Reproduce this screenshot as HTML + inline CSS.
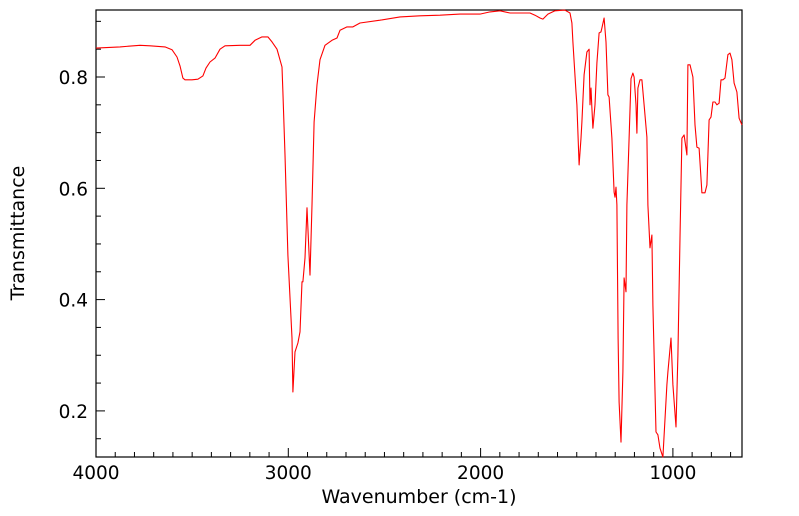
<!DOCTYPE html>
<html><head><meta charset="utf-8"><style>
body{margin:0;background:#fff;}
svg{display:block;font-family:"DejaVu Sans","Liberation Sans",sans-serif;}
</style></head><body>
<svg id="chart" width="799" height="516">
<g id="axes"></g>
<path id="spec" fill="none" stroke="#ff0000" stroke-width="1.1" stroke-linejoin="round"/>
<text x="419" y="503" font-size="19" text-anchor="middle">Wavenumber (cm-1)</text>
<text transform="translate(24,233) rotate(-90)" font-size="19" text-anchor="middle">Transmittance</text>
</svg>
<script>
const wavenumbers=[4000,3875,3771,3719,3641,3605,3579,3563,3548,3537,3501,3470,3444,3428,3407,3381,3355,3329,3251,3199,3173,3137,3106,3085,3059,3033,3028,3017,3002,2981,2976,2965,2950,2939,2929,2924,2913,2903,2887,2877,2866,2851,2835,2809,2773,2747,2731,2695,2664,2627,2523,2419,2315,2211,2107,2003,1951,1899,1847,1795,1743,1717,1691,1676,1650,1613,1572,1561,1535,1525,1520,1504,1499,1488,1478,1473,1462,1447,1436,1431,1426,1421,1416,1405,1395,1384,1374,1369,1358,1348,1338,1332,1322,1317,1306,1301,1296,1291,1285,1280,1270,1260,1254,1244,1239,1228,1218,1208,1202,1192,1187,1182,1171,1161,1150,1135,1130,1119,1109,1104,1088,1078,1067,1052,1031,1026,1010,1000,984,974,963,953,942,927,922,911,896,885,875,864,854,849,833,823,812,802,792,781,771,760,750,740,729,714,703,693,682,667,656,641];
const transmittance=[0.852,0.854,0.857,0.856,0.854,0.849,0.836,0.820,0.798,0.795,0.795,0.796,0.802,0.816,0.827,0.834,0.850,0.856,0.857,0.857,0.866,0.872,0.872,0.863,0.850,0.818,0.773,0.660,0.480,0.331,0.234,0.306,0.322,0.342,0.432,0.432,0.475,0.565,0.444,0.570,0.719,0.786,0.831,0.857,0.866,0.870,0.884,0.890,0.890,0.897,0.902,0.908,0.910,0.911,0.913,0.913,0.917,0.919,0.915,0.915,0.915,0.911,0.906,0.904,0.913,0.919,0.920,0.920,0.915,0.897,0.863,0.773,0.750,0.642,0.690,0.719,0.804,0.845,0.850,0.750,0.780,0.744,0.708,0.750,0.825,0.879,0.881,0.888,0.906,0.863,0.768,0.764,0.714,0.690,0.593,0.584,0.602,0.570,0.331,0.216,0.144,0.270,0.439,0.414,0.570,0.690,0.797,0.807,0.800,0.750,0.699,0.780,0.795,0.795,0.750,0.692,0.570,0.493,0.516,0.390,0.162,0.157,0.133,0.117,0.247,0.270,0.331,0.247,0.171,0.300,0.511,0.690,0.696,0.660,0.822,0.822,0.800,0.714,0.674,0.672,0.618,0.592,0.592,0.606,0.723,0.728,0.755,0.755,0.750,0.753,0.795,0.795,0.798,0.840,0.843,0.831,0.789,0.773,0.726,0.714];
const xTicks=[4000,3000,2000,1000];
const yTicks=[0.2,0.4,0.6,0.8];
const L=96,R=742,T=10,B=457;
const x=w=>L+(4000-w)*0.1923;
const y=v=>77+(0.8-v)*556.5;
const ns="http://www.w3.org/2000/svg";
const ax=document.getElementById('axes');
function mk(tag,attrs){const e=document.createElementNS(ns,tag);for(const k in attrs)e.setAttribute(k,attrs[k]);ax.appendChild(e);return e;}
const frame=mk('rect',{x:L,y:T,width:R-L,height:B-T,fill:'none',stroke:'#000','stroke-width':1.2});


for(let w=4000;w>=650;w-=100){
  const major=w%1000===0;
  const t=mk('line',{x1:x(w),x2:x(w),y1:B,y2:B-(major?9:5),stroke:'#000','stroke-width':1});
  
  
}
xTicks.forEach(w=>{
  const t=mk('text',{x:x(w),y:B+22,'font-size':18.5,'text-anchor':'middle'});
  t.textContent=w;
  
  
});
for(let v=0.15;v<=0.92;v+=0.05){
  const major=Math.abs(v*10-Math.round(v*10))<1e-6&&Math.round(v*10)%2===0;
  const t=mk('line',{x1:L,x2:L+(major?9:5),y1:y(v),y2:y(v),stroke:'#000','stroke-width':1});
  
  
}
yTicks.forEach(v=>{
  const t=mk('text',{x:L-8,y:y(v)+7,'font-size':18.5,'text-anchor':'end'});
  t.textContent=v.toFixed(1);
  
  
});
document.getElementById('spec').setAttribute('d',wavenumbers.map((w,i)=>(i?'L':'M')+x(w).toFixed(1)+','+y(transmittance[i]).toFixed(1)).join(''));
</script>
</body></html>
